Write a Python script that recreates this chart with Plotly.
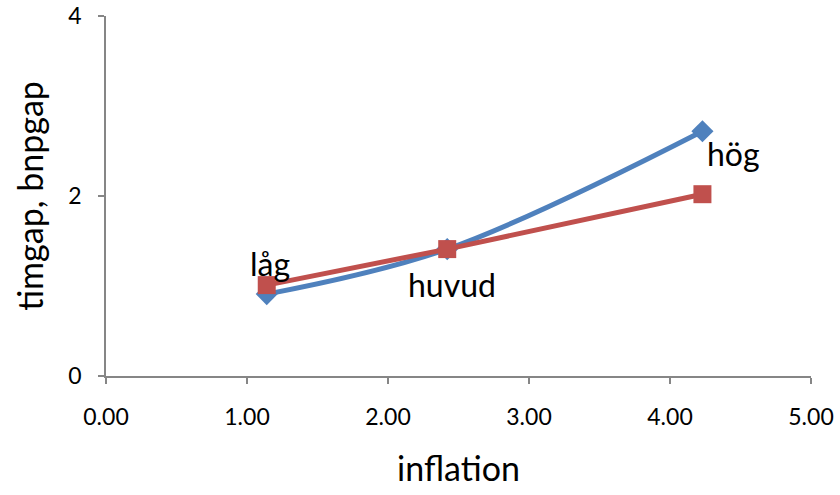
import plotly.graph_objects as go

inflation = [1.14, 2.42, 4.23]
timgap = [0.91, 1.41, 2.72]
bnpgap = [1.01, 1.41, 2.02]
labels = ["låg", "huvud", "hög"]
x_ticks = [0, 1, 2, 3, 4, 5]
x_ticktext = ["0.00", "1.00", "2.00", "3.00", "4.00", "5.00"]
y_ticks = [0, 2, 4]

FONT = "Lato"
BLUE = "#4F81BD"
RED = "#C0504D"
AXIS = "#868686"

fig = go.Figure()
fig.add_trace(go.Scatter(
    x=inflation, y=timgap, mode="lines+markers", name="timgap",
    line=dict(color=BLUE, width=5, shape="spline", smoothing=1),
    marker=dict(symbol="diamond", size=17, color=BLUE),
))
fig.add_trace(go.Scatter(
    x=inflation, y=bnpgap, mode="lines+markers", name="bnpgap",
    line=dict(color=RED, width=5),
    marker=dict(symbol="square", size=18, color=RED),
))

# label offsets (pixels) relative to the points
offsets = [(3, 31), (5, -35), (31, -22)]
for xv, yv, t, (dx, dy) in zip(inflation, timgap, labels, offsets):
    fig.add_annotation(x=xv, y=yv, text=t, showarrow=False,
                       xshift=dx, yshift=dy,
                       font=dict(family=FONT, size=32, color="#000000"))

fig.update_layout(
    width=840, height=495,
    margin=dict(l=106, r=29, t=16, b=119),
    paper_bgcolor="white", plot_bgcolor="white",
    showlegend=False,
    font=dict(family=FONT, color="#000000"),
)
fig.update_xaxes(
    range=[0, 5], tickvals=x_ticks, ticktext=x_ticktext, automargin=False,
    ticklabeloverflow="allow",
    showgrid=False, zeroline=False, showline=True, linecolor=AXIS, linewidth=1.5,
    ticks="outside", ticklen=6, tickcolor=AXIS, tickwidth=1.5,
    tickfont=dict(family=FONT, size=23, color="#000000"),
    ticklabelstandoff=14,
    title=dict(text="inflation", font=dict(family=FONT, size=34, color="#000000"), standoff=28),
)
fig.update_yaxes(
    range=[0, 4], tickvals=y_ticks, automargin=False,
    ticklabeloverflow="allow",
    showgrid=False, zeroline=False, showline=True, linecolor=AXIS, linewidth=1.5,
    ticks="outside", ticklen=6, tickcolor=AXIS, tickwidth=1.5,
    tickfont=dict(family=FONT, size=23, color="#000000"),
    ticklabelstandoff=12,
    title=dict(text="timgap, bnpgap", font=dict(family=FONT, size=34, color="#000000"), standoff=14),
)

# remove the default 8px page margin so the figure fills the window exactly
fig.write_html("out.html", config={"displayModeBar": False},
               post_script="document.body.style.margin='0';")
